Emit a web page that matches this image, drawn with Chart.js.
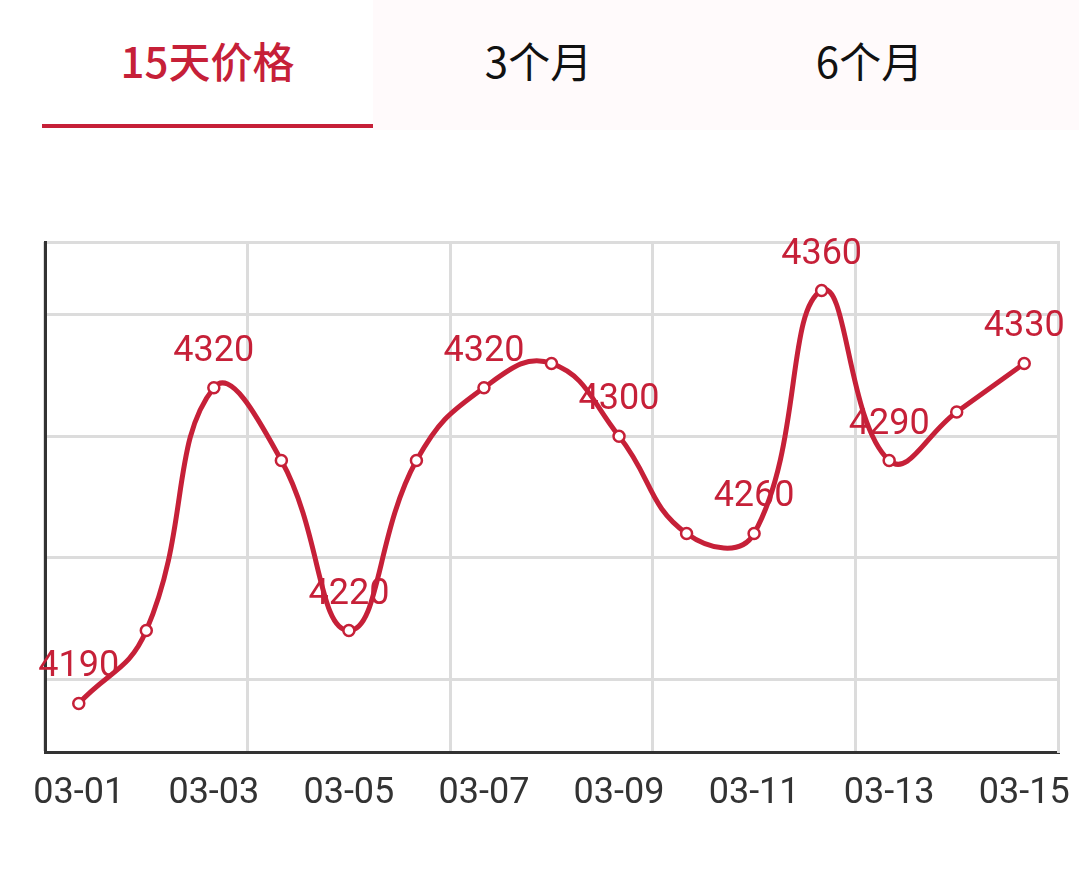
<!DOCTYPE html>
<html>
<head>
<meta charset="utf-8">
<script src="https://cdn.jsdelivr.net/npm/chart.js@4.4.1/dist/chart.umd.min.js"></script>
<style>
html, body { margin: 0; padding: 0; background: #fff; }
body { width: 1079px; height: 869px; position: relative; overflow: hidden; }
.tab-bg { position: absolute; left: 373px; top: 0; right: 0; height: 130px; background: #fffafb; }
.tab {
  position: absolute; top: 0; width: 331px; height: 124px;
  font-family: "Noto Sans CJK SC", sans-serif; font-size: 42px; color: #111;
}
.tab span { position: absolute; left: 0; right: 0; top: 30px; line-height: 60px; text-align: center; }
.tab.active { color: #c62038; font-weight: 500; border-bottom: 4px solid #c62038; }
#wrap { position: absolute; left: 0; top: 130px; width: 1079px; height: 739px; }
</style>
</head>
<body>
<div class="tab-bg"></div>
<div id="tabs"></div>
<div id="wrap"><canvas id="priceChart"></canvas></div>
<script>
// tab titles, first one is selected
const tabNames = ['15天价格', '3个月', '6个月'];

// 15 days of prices
const days = ['03-01', '03-02', '03-03', '03-04', '03-05', '03-06', '03-07', '03-08',
              '03-09', '03-10', '03-11', '03-12', '03-13', '03-14', '03-15'];
const prices = [4190, 4220, 4320, 4290, 4220, 4290, 4320, 4330,
                4300, 4260, 4260, 4360, 4290, 4310, 4330];
// which points carry a value label
const labeledPoints = [0, 2, 4, 6, 8, 10, 11, 12, 14];
// horizontal grid lines (first and last are the axis bounds)
const yGridValues = [4170, 4200, 4250, 4300, 4350, 4380];

const red = '#c62038';

// build the tab strip
const tabsEl = document.getElementById('tabs');
tabNames.forEach((name, i) => {
    const d = document.createElement('div');
    d.className = 'tab' + (i === 0 ? ' active' : '');
    d.style.left = (42 + i * 331) + 'px';
    const s = document.createElement('span');
    s.textContent = name;
    d.appendChild(s);
    tabsEl.appendChild(d);
});

// draws the price above selected points
const pointLabels = {
    id: 'pointLabels',
    afterDatasetsDraw(chart) {
        const ctx = chart.ctx;
        const meta = chart.getDatasetMeta(0);
        ctx.save();
        ctx.font = '36px Roboto';
        ctx.fillStyle = red;
        ctx.textAlign = 'center';
        ctx.textBaseline = 'alphabetic';
        labeledPoints.forEach(i => {
            const pt = meta.data[i];
            ctx.fillText(String(prices[i]), pt.x, pt.y - 27);
        });
        ctx.restore();
    }
};

Chart.defaults.font.family = 'Roboto';

const ctx = document.getElementById('priceChart').getContext('2d');
new Chart(ctx, {
    type: 'line',
    data: {
        labels: days,
        datasets: [{
            data: prices,
            borderColor: red,
            borderWidth: 5,
            tension: 0.45,
            pointRadius: 5.5,
            pointHoverRadius: 5.5,
            pointBorderWidth: 2.5,
            pointBackgroundColor: '#fff',
            pointBorderColor: red
        }]
    },
    options: {
        responsive: true,
        maintainAspectRatio: false,
        animation: false,
        layout: { padding: { left: 45, right: 21, top: 112, bottom: 33 } },
        plugins: { legend: { display: false }, tooltip: { enabled: false } },
        scales: {
            x: {
                offset: true,
                grid: {
                    offset: true,
                    drawTicks: false,
                    lineWidth: 3,
                    // only every third band boundary gets a line
                    color: c => (c.index !== undefined && c.index % 3 === 0) ? '#dcdcdc' : 'rgba(0,0,0,0)'
                },
                border: { color: '#333', width: 3 },
                ticks: {
                    autoSkip: false,
                    maxRotation: 0,
                    padding: 4,
                    color: '#333',
                    font: { size: 36, lineHeight: 2.11 },
                    callback: (v, i) => (i % 2 === 0 ? days[i] : '')
                }
            },
            y: {
                min: yGridValues[0],
                max: yGridValues[yGridValues.length - 1],
                afterBuildTicks: axis => { axis.ticks = yGridValues.map(v => ({ value: v })); },
                grid: { drawTicks: false, lineWidth: 3, color: '#dcdcdc' },
                border: { color: '#333', width: 3 },
                ticks: { display: false }
            },
            yRight: {
                position: 'right',
                min: yGridValues[0],
                max: yGridValues[yGridValues.length - 1],
                grid: { display: false, drawTicks: false },
                border: { color: '#dcdcdc', width: 3 },
                ticks: { display: false }
            }
        }
    },
    plugins: [pointLabels]
});
</script>
</body>
</html>
